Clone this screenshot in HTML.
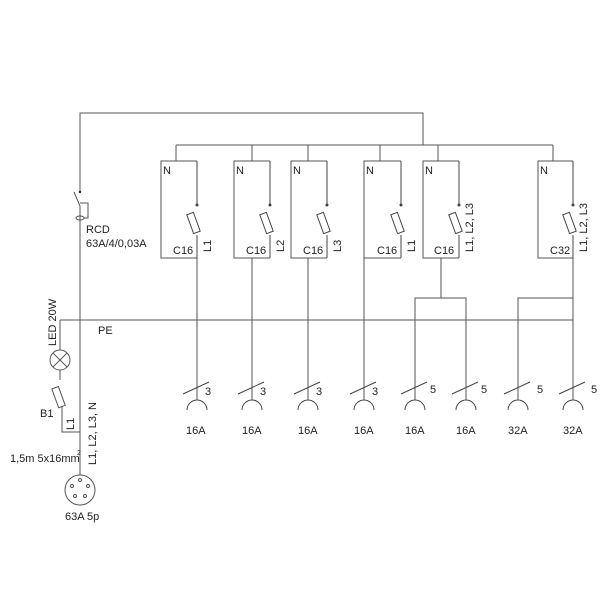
<!DOCTYPE html>
<html><head><meta charset="utf-8"><style>body{margin:0;background:#fff}svg{display:block}text{font-family:"Liberation Sans",sans-serif;font-size:11px;fill:#222}</style></head><body>
<svg width="600" height="600" viewBox="0 0 600 600" xmlns="http://www.w3.org/2000/svg">
<defs>
<g id="fuse" stroke="#444" fill="none"><line x1="0" y1="-66" x2="0" y2="-22"/><circle cx="0" cy="-22" r="1" fill="#222"/><rect x="-7" y="-14" width="7" height="20" transform="rotate(-20 -3.5 -4)"/><line x1="0" y1="8" x2="0" y2="31"/></g>
<g id="sock"><path d="M-10 410 A10 10 0 0 1 10 410" fill="none" stroke="#444"/><line x1="-14" y1="394" x2="12" y2="382" stroke="#444"/></g>
</defs>
<g stroke="#555" stroke-width="1" fill="none">
<polyline points="80,193 80,113 423,113 423,145"/>
<line x1="176" y1="145" x2="553" y2="145"/>
<line x1="176" y1="145" x2="176" y2="161"/><line x1="252" y1="145" x2="252" y2="161"/><line x1="308" y1="145" x2="308" y2="161"/><line x1="380" y1="145" x2="380" y2="161"/><line x1="438" y1="145" x2="438" y2="161"/><line x1="553" y1="145" x2="553" y2="161"/>
<polyline points="197,161 161,161 161,258 197,258"/>
<polyline points="270,161 234,161 234,258 270,258"/>
<polyline points="327,161 291,161 291,258 327,258"/>
<polyline points="401,161 364,161 364,258 401,258"/>
<polyline points="459,161 423,161 423,258 459,258"/>
<polyline points="573,161 538,161 538,258 573,258"/>
<line x1="60" y1="320" x2="573" y2="320"/>
<line x1="197" y1="258" x2="197" y2="400"/>
<line x1="252" y1="258" x2="252" y2="400"/>
<line x1="308" y1="258" x2="308" y2="400"/>
<line x1="364" y1="258" x2="364" y2="400"/>
<polyline points="441,258 441,298"/>
<polyline points="415,400 415,298 466,298 466,400"/>
<polyline points="573,258 573,400"/>
<polyline points="518,400 518,298 573,298"/>
<line x1="80" y1="206" x2="80" y2="475"/>
<line x1="74" y1="192" x2="80" y2="206"/>
<polyline points="80,203 88,203 88,218 84,218"/>
<ellipse cx="80" cy="218" rx="4" ry="2"/>
<polyline points="60,320 60,350"/>
<circle cx="60" cy="360" r="10"/>
<line x1="53" y1="353" x2="67" y2="367"/><line x1="67" y1="353" x2="53" y2="367"/>
<line x1="60" y1="370" x2="60" y2="380"/>
<rect x="55" y="387" width="7" height="20" transform="rotate(-20 59 397)"/>
<polyline points="62,406 62,432 80,432"/>
<circle cx="80" cy="490" r="15"/>
</g>
<g fill="none" stroke="#555">
<circle cx="80" cy="480" r="1.5"/><circle cx="72" cy="486" r="1.5"/><circle cx="88" cy="486" r="1.5"/><circle cx="75" cy="496" r="1.5"/><circle cx="85" cy="496" r="1.5"/>
</g>
<circle cx="80" cy="192" r="1.2" fill="#222"/>
<use href="#fuse" x="197" y="227"/><use href="#fuse" x="270" y="227"/><use href="#fuse" x="327" y="227"/><use href="#fuse" x="401" y="227"/><use href="#fuse" x="459" y="227"/><use href="#fuse" x="573" y="227"/>
<use href="#sock" x="197"/><use href="#sock" x="252"/><use href="#sock" x="308"/><use href="#sock" x="364"/><use href="#sock" x="415"/><use href="#sock" x="466"/><use href="#sock" x="518"/><use href="#sock" x="573"/>
<g>
<text x="163" y="174">N</text><text x="236" y="174">N</text><text x="293" y="174">N</text><text x="366" y="174">N</text><text x="425" y="174">N</text><text x="540" y="174">N</text>
<text x="173" y="254">C16</text><text x="246" y="254">C16</text><text x="303" y="254">C16</text><text x="377" y="254">C16</text><text x="434" y="254">C16</text><text x="550" y="254">C32</text>
<text transform="translate(211,252) rotate(-90)">L1</text>
<text transform="translate(284,252) rotate(-90)">L2</text>
<text transform="translate(341,252) rotate(-90)">L3</text>
<text transform="translate(415,252) rotate(-90)">L1</text>
<text transform="translate(473,252) rotate(-90)">L1, L2, L3</text>
<text transform="translate(587,252) rotate(-90)">L1, L2, L3</text>
<text x="86" y="233">RCD</text><text x="86" y="247">63A/4/0,03A</text>
<text x="98" y="334">PE</text>
<text transform="translate(56,346) rotate(-90)">LED 20W</text>
<text x="40" y="417">B1</text>
<text transform="translate(74,430) rotate(-90)">L1</text>
<text transform="translate(96,465) rotate(-90)">L1, L2, L3, N</text>
<text x="10" y="462">1,5m 5x16mm</text><text x="77" y="455" style="font-size:7px">2</text>
<text x="65" y="520">63A 5p</text>
<text x="205" y="395">3</text><text x="260" y="395">3</text><text x="316" y="395">3</text><text x="372" y="395">3</text><text x="430" y="393">5</text><text x="481" y="393">5</text><text x="537" y="393">5</text><text x="591" y="393">5</text>
<text x="186" y="434">16A</text><text x="242" y="434">16A</text><text x="298" y="434">16A</text><text x="354" y="434">16A</text><text x="405" y="434">16A</text><text x="456" y="434">16A</text><text x="508" y="434">32A</text><text x="563" y="434">32A</text>
</g>
</svg>
</body></html>
